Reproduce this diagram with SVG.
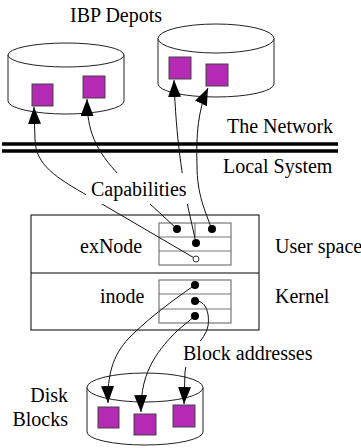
<svg xmlns="http://www.w3.org/2000/svg" width="361" height="448" viewBox="0 0 361 448">
  <style>
    text { font-family: 'Liberation Serif', 'DejaVu Serif', 'Noto Serif', serif; font-size: 20px; fill: #000; }
    .cyl { fill: #fff; stroke: #222; stroke-width: 1; }
    .blk { fill: #b42ab4; stroke: #444; stroke-width: 1; }
    .tbl { fill: none; stroke: #777; stroke-width: 1.2; }
    .box { fill: none; stroke: #000; stroke-width: 1; }
    .net { stroke: #000; stroke-width: 3.6; }
    .wire { fill: none; stroke: #111; stroke-width: 1; }
    .dot { fill: #000; }
    .halo { fill: #fff; }
  </style>
  <defs>
    <marker id="arrow" markerUnits="userSpaceOnUse" markerWidth="18" markerHeight="13" refX="17" refY="6.5" orient="auto">
      <path d="M0,0 L17,6.5 L0,13 Z" fill="#000"/>
    </marker>
  </defs>

  <!-- remote depots -->
  <g id="depot-left">
    <path class="cyl" d="M8,55 L8,101 A58,13 0 0 0 124,101 L124,55 Z"/>
    <ellipse class="cyl" cx="66" cy="55" rx="58" ry="12"/>
    <rect class="blk" x="32" y="84" width="21" height="22"/>
    <rect class="blk" x="83" y="76" width="22" height="22"/>
  </g>
  <g id="depot-right">
    <path class="cyl" d="M158,38.5 L158,84 A58,13 0 0 0 274,84 L274,38.5 Z"/>
    <ellipse class="cyl" cx="216" cy="38.5" rx="58" ry="14.5"/>
    <rect class="blk" x="169" y="57" width="22" height="22"/>
    <rect class="blk" x="206" y="64" width="22" height="22"/>
  </g>
  <text x="70" y="22" font-family="Liberation Serif, serif">IBP Depots</text>

  <!-- network boundary -->
  <g id="network">
    <line class="net" x1="2" y1="144" x2="338" y2="144"/>
    <line class="net" x1="2" y1="151" x2="338" y2="151"/>
    <text x="227" y="133" font-family="Liberation Serif, serif">The Network</text>
    <text x="223" y="173" font-family="Liberation Serif, serif">Local System</text>
  </g>

  <!-- local host: user space and kernel -->
  <g id="host">
    <rect class="box" x="31" y="215" width="228" height="115"/>
    <line class="box" x1="31" y1="273" x2="259" y2="273"/>
    <text x="275" y="253" font-family="Liberation Serif, serif">User space</text>
    <text x="275" y="303" font-family="Liberation Serif, serif">Kernel</text>
  </g>
  <g id="exnode">
    <text x="80" y="253" font-family="Liberation Serif, serif">exNode</text>
    <rect class="tbl" x="159" y="223" width="72" height="42"/>
    <line class="tbl" x1="159" y1="237" x2="231" y2="237"/>
    <line class="tbl" x1="159" y1="251" x2="231" y2="251"/>
    <line class="tbl" x1="195" y1="223" x2="195" y2="237"/>
  </g>
  <g id="inode">
    <text x="100" y="303" font-family="Liberation Serif, serif">inode</text>
    <rect class="tbl" x="159" y="280" width="72" height="43"/>
    <line class="tbl" x1="159" y1="294" x2="231" y2="294"/>
    <line class="tbl" x1="159" y1="309" x2="231" y2="309"/>
  </g>

  <!-- local disk -->
  <g id="disk">
    <path class="cyl" d="M87,387.5 L87,432 A58,13 0 0 0 203,432 L203,387.5 Z"/>
    <ellipse class="cyl" cx="145" cy="387.5" rx="58" ry="14.5"/>
    <rect class="blk" x="98" y="407" width="21" height="21"/>
    <rect class="blk" x="134" y="414" width="22" height="21"/>
    <rect class="blk" x="173" y="405" width="22" height="22"/>
    <text x="68" y="402" text-anchor="end" font-family="Liberation Serif, serif">Disk</text>
    <text x="68" y="426" text-anchor="end" font-family="Liberation Serif, serif">Blocks</text>
  </g>

  <!-- references from exNode / inode slots to blocks -->
  <g id="connectors">
    <path class="wire" marker-end="url(#arrow)" d="M196,259 L90,197 C55,177 36,165 35,140 L34,107"/>
    <path class="wire" marker-end="url(#arrow)" d="M177,229 L120,176 C95,150 87,130 87,99"/>
    <path class="wire" marker-end="url(#arrow)" d="M196,243 L188,207 C183,180 176,140 174,80"/>
    <path class="wire" marker-end="url(#arrow)" d="M212,230 C205,210 197,195 197,165 C196,135 198,110 208,88"/>
    <path class="wire" marker-end="url(#arrow)" d="M195,285 C170,302 150,318 135,332 C118,348 107,365 108,403"/>
    <path class="wire" marker-end="url(#arrow)" d="M195,301 C205,300 210,312 208,326 C206,340 186,352 185,372 L184,404"/>
    <path class="wire" marker-end="url(#arrow)" d="M195,316 L178,330 C160,348 140,370 141,412"/>
  </g>

  <!-- labels sit on a white patch over the wires -->
  <g id="label-capabilities">
    <rect class="halo" x="86" y="173" width="104" height="31"/>
    <text x="91" y="196" font-family="Liberation Serif, serif">Capabilities</text>
  </g>
  <g id="label-block-addresses">
    <rect class="halo" x="180" y="341" width="133" height="26"/>
    <text x="183" y="360" font-family="Liberation Serif, serif">Block addresses</text>
  </g>

  <!-- slot pointers -->
  <g id="slots">
    <circle class="dot" cx="177" cy="229" r="4"/>
    <circle class="dot" cx="212" cy="229" r="4"/>
    <circle class="dot" cx="196" cy="243" r="4"/>
    <circle cx="196" cy="259" r="3" fill="#fff" stroke="#333" stroke-width="1"/>
    <circle class="dot" cx="195" cy="285" r="4"/>
    <circle class="dot" cx="195" cy="301" r="4"/>
    <circle class="dot" cx="195" cy="316" r="4"/>
  </g>
</svg>
